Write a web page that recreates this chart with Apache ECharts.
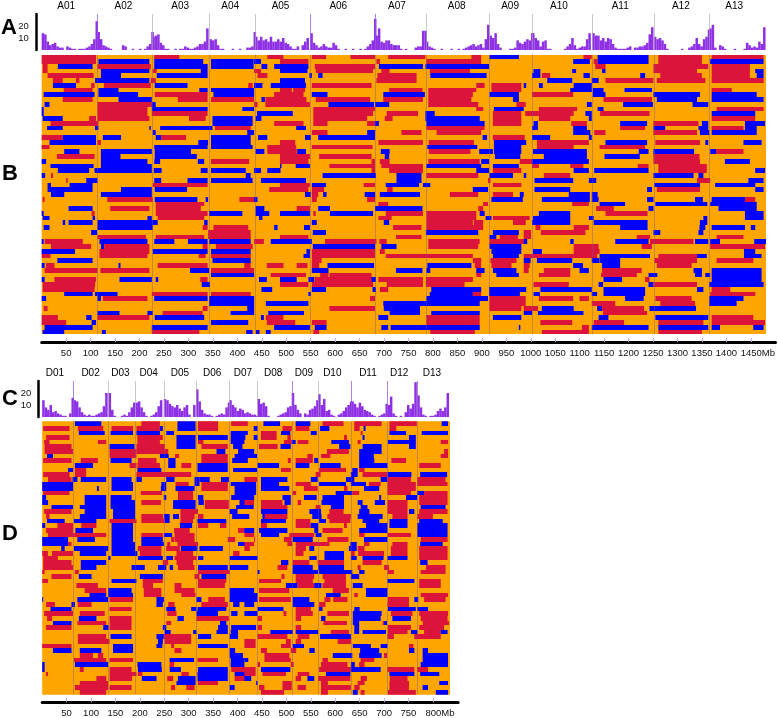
<!DOCTYPE html>
<html><head><meta charset="utf-8">
<style>html,body{margin:0;padding:0;background:#fff}#c{width:778px;height:718px}</style>
<script src="https://cdn.jsdelivr.net/npm/echarts@6/dist/echarts.min.js"></script>
</head><body><div id="c"></div>
<script>
const chromA=['A01','A02','A03','A04','A05','A06','A07','A08','A09','A10','A11','A12','A13'];
const chromD=['D01','D02','D03','D04','D05','D06','D07','D08','D09','D10','D11','D12','D13'];
const labelMbA=[50,167,283,385,488,606,726,848,957,1057,1182,1306,1415];
const labelMbD=[26,99,160,218,282,348,411,473,536,594,667,731,798];
const startMbA=[0,114,226,343,436,549,682,785,915,1002,1125,1251,1364];
const startMbD=[0,64,136,191,249,315,383,441,511,565,633,707,768];
const lineTintA=[1,0,0,0,1,1,0,0,0,0,0,0];
const lineTintD=[1,0,0,0,0,0,0,1,0,1,1,1];
const ticksA=[50,100,150,200,250,300,350,400,450,500,550,600,650,700,750,800,850,900,950,1000,1050,1100,1150,1200,1250,1300,1350,1400,1450];
const ticksD=[50,100,150,200,250,300,350,400,450,500,550,600,650,700,750,800];
const yTicks=[10,20];
const histA=[
[14,13,7,4,5,6,3,2,2,0,3,2,1,1,0,1,1,1,2,3,5,9,24],
[15,9,4,3,2,1,0,0,0,0,4,3,0,0,1,0,0,1,0,1,3,5,15],
[11,12,13,6,4,1,1,0,0,1,0,1,1,3,2,1,1,2,3,5,5,7,18],
[9,8,9,4,1,1,0,0,0,1,0,0,1,0,0,2,2,3,15],
[11,8,11,8,9,7,11,7,7,9,7,10,6,5,3,1,1,3,0,4,7,10],
[14,6,4,2,3,5,3,2,2,6,4,1,0,0,1,0,0,1,0,0,1,0,1,3,5,8,26],
[12,18,7,6,8,8,5,4,4,4,1,0,1,0,0,0,2,3,3,16,16],
[7,3,2,1,0,0,1,0,0,0,1,0,0,1,0,1,2,3,4,5,3,4,5,2,9,21],
[12,10,14,5,2,0,0,0,1,1,2,8,6,5,7,9,8,14],
[14,10,8,3,7,8,1,1,0,0,0,0,0,1,3,5,10,4,1,2,3,3,9,14],
[14,12,12,8,10,7,10,9,5,2,1,1,1,1,2,3,0,2,2,3,3,4,6,13,19],
[11,9,10,8,5,1,0,0,0,0,0,1,0,0,2,3,5,10,5,3,9,11,17],
[18,21,2,0,4,3,1,0,0,0,1,0,0,0,1,6,4,2,3,2,7,5,19]];
const histC=[
[14,8,6,10,4,5,3,2,1,1,0,3,16],
[14,13,8,4,2,1,2,1,1,2,3,4,9,20],
[20,6,1,0,0,1,2,1,4,8,12],
[12,13,8,4,1,0,1,2,4,9,14],
[15,14,11,9,8,10,7,5,8,10,2,0,10],
[23,13,6,3,2,2,1,0,1,2,3,2,8,12],
[14,10,8,5,7,6,3,4,3,2,2,1],
[15,11,12,9,1,0,0,0,1,2,3,4,8,9],
[20,10,6,3,0,3,2,6,7,9,14],
[19,10,15,5,6,2,1,0,2,3,5,8,10,13],
[13,11,8,12,9,6,5,4,2,1,0,1,2,3,11],
[10,17,3,1,0,1,0,4,10,7,11,29],
[18,8,2,1,0,1,1,2,5,7,5,8,20]];
const rowsB=[
"r0-111 r230-281 r461-494 r552-581 r631-681 r708-784 r878-898 b915-975 r1107-1124 b1136-1240 r1260-1349 r1369-1475",
"r0-111 b116-220 b230-330 b346-433 b434-448 r487-545 r684-691 r786-898 b1086-1120 r1128-1136 b1136-1240 r1260-1349 b1366-1475",
"r2-12 b33-104 r114-223 b230-339 b346-433 b449-461 b475-494 b487-545 r558-681 b689-779 b784-914 r1131-1152 r1250-1362 r1369-1447",
"r2-12 b121-220 r227-235 b325-339 r434-448 b487-543 r560-677 r694-711 r793-875 b1005-1019 b1084-1092 b1145-1152 r1250-1339 r1369-1447 b1458-1475",
"r12-106 b121-162 b235-339 r441-461 b547-552 b565-574 r686-766 b794-909 b1002-1019 r1022-1039 b1107-1120 b1223-1233 r1264-1349 r1369-1447 b1461-1475",
"r23-43 r70-77 b109-220 r223-233 b487-538 r684-766 b1033-1084 b1124-1138 r1152-1250 r1257-1356 r1369-1475",
"b23-70 r101-108 r127-223 b231-298 r422-431 b434-451 b468-494 b487-540 r552-674 r888-905 r919-980 b985-990 b1016-1024 b1087-1124",
"r45-104 b116-157 b322-339 b346-434 r487-511 r514-538 r710-778 r790-888 r919-980 b1080-1124 b1126-1148 b1191-1247 r1369-1410",
"b4-108 b116-197 r231-339 b351-434 r475-494 r487-535 b552-584 b698-783 r790-881 b915-975 r1002-1086 b1126-1152 b1250-1345 b1369-1461",
"r43-104 b157-225 r278-339 r346-434 b449-456 r457-494 r487-541 r560-671 r698-779 r790-878 b963-975 r1148-1247 b1257-1339 b1369-1475",
"b6-16 r114-225 b225-233 r434-441 r457-494 r487-548 b586-679 b681-710 r790-892 r970-989 b1114-1124 b1188-1249 b1330-1362",
"b0-4 r114-216 b225-339 b410-434 r555-681 r888-902 b924-985 r1016-1094 b1136-1148 r1379-1475",
"b0-4 r114-216 r225-339 b440-494 b487-513 r555-677 r705-769 b784-803 r922-980 r988-1087 b1111-1124 r1141-1242 b1369-1458",
"b2-43 r97-111 r114-220 r301-335 b349-431 b437-449 r555-665 r701-717 b784-895 r922-980 r1016-1080 b1118-1124 r1369-1458",
"r18-116 b349-431 r475-494 r487-535 r555-584 r665-681 b681-689 b786-905 r922-980 b1005-1014 r1082-1114 b1182-1237 r1250-1342 b1349-1362 b1437-1478",
"b11-43 b109-116 b220-223 b242-349 r354-427 b520-540 r786-905 b1002-1014 b1086-1114 r1182-1233 b1250-1274 b1342-1362 r1369-1434 b1437-1461",
"b227-233 b420-434 r552-584 b665-681 r735-776 r807-898 b1086-1121 r1129-1152 r1250-1339 b1345-1364 b1369-1461",
"r0-43 b43-111 b125-162 b233-244 r244-295 b346-427 b442-461 b538-550 b565-681 b901-910 r922-987 b1002-1039 b1118-1124",
"b16-111 r114-121 b320-340 b346-427 r487-518 r688-779 r791-883 b924-989 b985-990 r1012-1118 b1152-1237 r1254-1345 b1356-1362 b1434-1471",
"r0-16 b230-339 b346-431 r461-494 r487-520 r552-676 b788-890 b924-980 r1012-1087 r1140-1233",
"b46-77 b121-225 b231-305 b437-455 r461-494 r487-521 b522-540 b693-711 r791-876 b894-922 b924-980 b1004-1114 b1220-1240 b1250-1333 b1366-1378 r1378-1434",
"r31-108 b121-161 b231-317 r487-548 r567-674 b701-710 b926-978 b1026-1114 b1150-1222 r1250-1344",
"b0-9 b121-216 b230-242 b319-332 r346-424 r487-545 r674-681 r691-711 r790-895 b898-914 r977-989 r985-1002 b1002-1118 r1250-1345 b1396-1447",
"b18-106 b121-225 b487-490 b519-548 r588-681 r694-779 b786-898 b922-975 r1002-1016 r1080-1107 r1218-1240 r1260-1359",
"b33-97 b108-225 b229-245 b325-339 b346-417 b434-448 b461-488 r674-681 r710-779 b888-914 r922-980 b1087-1118 b1129-1240 r1260-1359 b1458-1478",
"b0-7 r19-23 b417-427 b574-683 b725-776 r786-892 b915-963 b985-990 r1026-1080 b1250-1332 b1342-1352",
"r50-53 b91-114 b230-244 b298-339 b346-431 b448-494 b487-540 b725-776 r912-917 b1007-1086 b1118-1133 r1339-1366 b1444-1475",
"b12-19 b57-104 r227-339 r487-548 b552-581 r658-681 b703-771 b779-794 r922-980 b1252-1345 b1376-1458",
"b12-104 b162-225 b231-297 r465-494 r487-545 r552-577 r706-717 b881-912 b1007-1080 b1237-1247 r1257-1345 b1458-1475",
"b19-46 b121-225 b538-550 r552-565 b575-582 b660-681 b691-773 r834-892 r922-963 b977-985 b1077-1120 b1124-1136",
"r2-6 r134-227 b231-318 b335-340 r404-434 b434-441 r552-562 r665-681 b919-983 b1022-1120 b1124-1138 b1237-1250 b1335-1351 b1369-1437 r1437-1458",
"r233-332 r688-708 r902-912 r1084-1118 b1140-1192 b1254-1360 b1366-1461",
"b55-104 r140-220 r233-325 b437-455 r521-548 b565-589 b681-778 r892-902 r1133-1169 b1240-1250 b1383-1461",
"b0-4 r102-108 r233-339 b342-410 b437-465 b487-548 r555-560 b589-677 r703-779 r786-888 b895-905 b1016-1080 r1152-1238 b1437-1475",
"b2-16 b104-109 b216-225 r237-332 b444-451 r688-715 r786-888 b907-919 r922-987 r985-997 b1004-1080 b1118-1128 b1352-1360 b1437-1475",
"b43-48 b55-104 b114-237 b332-339 b552-562 b699-710 r786-881 r883-902 r963-989 b1002-1080 b1128-1238 b1345-1360",
"b4-16 b114-227 r329-339 r351-422 b475-482 b536-548 r718-776 r786-902 r1009-1019 r1087-1118 b1182-1238 b1344-1356 b1369-1437 b1449-1458",
"b101-113 r340-427 b554-581 b785-892 b922-975 r985-1000 r1020-1111 b1250-1264 b1342-1352",
"r114-213 r233-332 r340-427 r487-545 r724-776 b915-929 r936-973 r985-1000 r1216-1243 r1379-1434",
"b0-4 r6-84 b118-216 b230-271 b299-339 b342-427 r434-454 b468-494 b487-552 r579-684 r690-705 r790-895 r915-989 b985-992 b1080-1087 b1172-1240 r1243-1332 b1335-1362 b1366-1386 b1456-1480",
"r19-101 b121-128 r128-220 r329-339 r356-431 b554-681 b694-725 r790-892 b915-980 r1087-1138 r1226-1247 r1366-1478",
"b0-68 r118-220 b227-339 b346-427 b541-548 r552-681 r691-701 b919-980 b1004-1022 r1087-1140 b1435-1458",
"r0-18 r118-216 r321-335 r346-427 b535-548 r552-681 r703-881 b922-975 r985-1135 b1140-1243 r1260-1339 b1339-1359 b1435-1471",
"b32-104 b349-427 r552-572 r881-898 r917-970 b985-999 b1012-1084 b1124-1140 b1141-1182 r1252-1339 r1379-1454",
"b0-6 r9-26 b157-161 r237-339 r414-427 r460-494 r521-543 r552-567 b584-679 b788-878 r885-898 r919-960 r985-997 b1086-1106 b1145-1182 r1257-1328",
"r6-114 r120-220 b303-342 r346-434 b552-586 b724-778 b786-794 b888-905 b922-970 r985-995 r1026-1080 b1099-1118 r1145-1226 b1332-1349 b1369-1471",
"b346-434 r468-494 r487-540 r569-586 r588-674 r888-898 b929-975 r1016-1080 r1143-1216 b1240-1258 b1335-1349 b1356-1366 b1369-1471",
"b0-6 r26-111 b159-225 b233-238 r324-339 b444-460 b487-521 b545-557 r558-677 b674-683 r688-779 r785-881 b1148-1186 r1233-1242 b1369-1471",
"r2-109 b327-344 r487-545 r552-677 r705-779 r785-864 r1005-1077 b1138-1147 b1240-1250 r1250-1339 b1364-1475",
"r2-108 b449-471 b552-581 b676-683 r691-708 b796-898 b914-989 b985-990 b1019-1124 b1148-1233 b1339-1352 r1369-1407",
"b46-104 b109-155 r225-339 r346-427 b545-550 b793-881 r881-898 b914-977 b1005-1018 b1124-1135 b1148-1233 r1366-1458",
"b0-9 b114-121 r125-216 b230-339 b342-434 r671-681 b786-912 r915-989 r1016-1086 r1099-1118 b1192-1230 r1254-1328 b1364-1434",
"b342-434 b458-494 b487-545 b698-783 b783-895 r915-989 r1124-1172 r1264-1335 b1364-1420",
"r4-12 r329-339 b420-434 r588-681 b699-773 r915-980 r985-1014 b1022-1087 b1135-1145 r1145-1231 b1242-1337",
"b114-159 b216-227 r247-329 b386-434 b463-494 b487-536 b711-773 b796-895 b985-1002 b1014-1107 r1147-1237",
"r0-33 b91-102 r114-220 b231-332 b448-454 r458-494 b688-708 r786-895 b922-980 b1138-1158 b1254-1362 r1369-1454",
"r0-50 b102-111 b346-422 r460-492 r487-518 r552-582 r786-895 r1019-1084 r1128-1190 r1260-1352 r1369-1478",
"b6-104 b225-339 b475-494 b487-548 b558-582 b694-708 b713-895 b975-978 r1104-1118 b1124-1240 b1260-1362 b1369-1386 b1454-1475",
"b2-46 b123-131 r225-322 b418-431 b438-445 b458-468 r555-567 r794-885 r1022-1118 r1260-1349"
];
const rowsD=[
"b67-121 r203-241 b277-314 r319-360 r387-421 b453-487 b519-549 r574-617 r639-695 r711-767 b818-831",
"r2-56 r73-125 r142-186 r193-241 b241-247 b277-314 r319-360 b433-441 r492-511 r519-547 b569-588 r639-650 b658-662 r711-725",
"b75-128 b140-186 b193-241 b254-270 b386-421 r448-480 b489-508 b550-562 r652-656 b711-745 b777-831",
"r8-56 r195-247 b275-314 b319-380 b386-416 b433-441 r448-480 r502-509 r618-624 b656-660 b751-765",
"r4-15 r114-131 r195-241 b275-314 r319-330 b386-414 r495-511 b511-519 r523-545 b592-628 r646-652 b708-765 r816-831",
"r5-60 b138-189 r193-251 b275-314 r326-380 b391-410 r444-482 b488-509 b608-631 b656-695 b751-765",
"r5-63 r138-193 r193-258 b357-375 b401-421 b414-434 r583-628 b649-695 r823-831",
"b10-22 r138-193 b241-259 r272-280 r326-380 b394-421 b414-440 r543-554 r571-590 b649-679 r816-831",
"r2-60 r79-114 b140-183 r196-234 b258-273 r326-380 b389-421 r503-509 r519-554 b557-565 b649-680 r715-745",
"b67-104 r179-193 r195-241 b258-273 r285-305 b318-380 b441-485 b519-547 b569-611 b649-707 r772-816",
"b53-63 r67-90 b195-244 b318-380 b391-421 b414-440 r489-509 r567-622 b635-646 r649-660",
"r2-56 r67-90 r193-305 r560-570 b632-646 r656-706 b707-756 b774-829",
"r12-60 b62-72 b79-131 b142-183 b193-204 b254-271 b312-322 b322-343 b366-382 r414-440 b448-502 b550-564 b622-639 b693-707 r707-755 r768-826",
"b0-63 b142-186 b244-254 r273-300 b312-322 r326-380 b386-421 b414-438 b448-485 r519-550 b567-622 r649-660 b632-663 r669-693 r707-765 r768-830",
"b0-63 b112-116 b142-186 b243-254 b273-312 r326-380 b394-421 b414-438 b448-506 r536-564 r618-625 b659-690 r707-765",
"r2-56 r202-245 r278-309 b394-421 b414-438 r513-520 b601-635 r635-649 r707-755 b768-782 r782-830",
"b0-8 b87-131 b140-183 b249-254 r278-309 b319-330 b387-421 b414-434 b492-509 b536-562 b574-618 b690-694 b745-768 r772-830",
"b0-12 b87-131 b140-190 r203-243 b268-314 b320-331 r333-382 b404-421 r414-434 r448-492 b496-509 r523-530 b572-618 b646-656 b681-702 r707-748 r772-830",
"b19-63 b77-131 b140-190 b268-314 r333-382 b397-421 b416-433 r448-502 r560-570 b591-618 b652-666 r707-748 b775-826",
"r4-60 b87-131 b145-190 r283-319 b384-400 b448-502 b547-571 r588-617 b649-670 r707-748 b751-762 r772-830",
"r8-15 b77-131 b145-190 r203-247 b249-261 b268-280 r283-312 r319-330 b389-421 b414-424 b451-456 r456-502 b553-572 r584-632 b646-697 r717-748 r768-800",
"b10-46 b65-111 r138-193 r203-251 b251-261 r283-309 b318-377 b448-499 r519-549 b567-581 r588-631 b656-690 b711-748 b772-820",
"b0-6 r31-63 r80-111 b142-186 b282-307 r319-340 r364-377 r448-460 r519-550 b550-565 r618-624 b663-707 b711-748 b768-830",
"r8-63 b68-104 b142-186 r270-302 r401-421 b414-434 b444-502 b557-565 r574-615 b649-707 b768-830",
"r12-67 r67-131 b142-186 r203-247 b249-266 r271-312 r414-434 b448-485 r506-557 b560-572 r649-660 r707-755 b768-830",
"b0-53 b72-108 b142-186 b203-247 r264-270 r271-312 r380-395 r434-436 r495-511 b513-554 r584-627 b659-707 r775-830",
"b0-53 r53-60 b142-190 b203-249 r256-262 r277-319 b401-421 r414-434 r502-512 r519-588 b631-644 r659-670 r717-748 b774-820",
"b39-46 b65-135 b142-190 r196-244 r254-282 b284-318 b322-370 r414-425 r519-540 b547-557 b628-644 r646-660 r714-748 r772-830",
"r0-12 r20-63 b77-131 b142-195 r200-244 r275-309 r391-404 r519-535 b578-618 r632-640 r647-700 r714-748 r772-830",
"r2-32 b135-140 b196-247 b254-268 r271-316 b319-330 b384-421 b414-441 b547-562 b578-618 b632-644 b656-699 b707-748 r772-830",
"r2-60 b79-131 r247-258 r275-309 b489-504 r513-547 r564-618 r656-695 b774-789",
"r2-63 b79-111 b183-210 b237-254 b261-268 r278-312 b319-380 b384-421 b414-422 r482-502 b513-554 b565-618 r646-652 r700-710 r786-826",
"r0-5 r67-75 r319-384 b441-445 b513-565 b567-635 b649-660 r707-720 r775-826",
"r19-60 b75-101 b200-247 r312-322 b326-377 r490-496 r519-557 r574-622 b632-649",
"r0-12 b142-193 r206-247 r319-377 r444-489 r519-554 r578-622 b707-762 r772-816",
"r70-114 r206-227 r271-285 r319-374 b499-523 r523-557 b557-572 r574-622 b636-656 r772-816",
"r87-131 b135-183 r208-244 r271-312 b384-421 b414-434 r444-506 r595-628 b663-707",
"b97-131 b135-186 r208-244 r285-314 b384-421 b414-441 b581-611 r639-646 b663-707 r775-831",
"b0-2 b72-135 r138-186 b234-249 b316-326 r340-374 b384-421 b414-441 r444-509 b513-547 r578-590 r596-625 r708-751 b762-770 r782-826",
"r8-26 b60-67 r73-101 b234-247 r258-271 r326-380 b391-404 b414-434 b513-557 r567-580 r707-751",
"b17-60 r138-183 b254-273 b305-316 b318-377 b441-494 r519-550 b567-574 b639-650 b708-765 b768-790",
"r4-63 r77-128 r256-275 b316-360 b387-400 b414-441 r494-500 r519-554 r584-628 b636-695 r714-758 r772-831",
"r10-20 b75-111 r138-183 b277-290 r316-382 r441-450 r519-530 b571-580 b636-693 b717-755 r775-830",
"b22-60 r72-131 r138-183 r254-264 b364-377 r576-624 b636-649 r697-702 b700-706 r779-833",
"r8-60 b125-136 r138-183 b247-254 b360-380 b387-421 b414-438 r441-450 r519-530 b639-649 r708-755 r772-823",
"b251-263 b309-316 b357-380 b386-401 b467-513 b519-565 r591-628 b639-649 b656-704 r708-748 b755-768 r782-816 b816-830",
"r73-131 b140-183 b234-249 r249-305 b319-346 b384-401 r441-502 r523-547 b569-632 r707-720 r762-816",
"r73-138 b237-247 r251-305 r414-437 r499-509 r519-530 r605-632",
"r0-60 b145-186 b234-246 r264-270 b319-380 r414-437 r489-509 b513-536 b636-673 b693-707 r751-760",
"b22-60 b77-121 b145-186 r271-285 b384-395 r448-460 r509-520 b547-558 b651-690 b751-762 b779-790",
"r77-104 r114-125 b384-411 r455-506 b595-635 b649-695 r700-706 b779-831",
"r65-131 r138-186 b261-311 r318-360 b386-414 b414-422 r455-509 r574-585 r652-680 b779-831",
"b0-5 b67-135 b195-244 r261-270 b386-414 r441-446 r509-515 r571-625 b632-640 r649-660 b775-831",
"b0-5 r77-85 r138-183 b196-245 b261-284 b319-380 r387-421 r414-437 b448-508 r567-632 b632-693 r707-762 r768-790",
"r8-12 r138-193 r196-205 r285-300 b318-380 b394-421 r414-437 r451-499 r523-547 b581-631 b711-762 b774-813",
"r111-131 r138-184 b204-234 r256-268 b278-314 b318-380 r394-421 b414-428 r519-530 b543-557 r565-631 r652-665 r712-748",
"r77-135 b275-314 r319-360 b438-441 r492-511 r571-585 r646-660 r711-751 b813-831",
"r67-135 r138-183 r264-272 r295-312 b384-394 r444-455 r492-511 r523-540 r571-632 r639-650 r711-751 b779-790",
"r77-131 r448-495 r571-585 b636-646 r652-660 r708-765 b806-831"
];

const COLORS={o:'#FFA500',r:'#DC143C',b:'#0000FF'};
const PURPLE='#8F2FE6';

function segData(rows,maxMb){
  const out=[[0,0,maxMb,'o',rows.length]];
  rows.forEach((s,k)=>{
    s.split(' ').forEach(t=>{
      const [a,b]=t.slice(1).split('-').map(Number);
      out.push([k,a,b,t[0],1]);
    });
  });
  return out;
}
function histData(bins,starts){
  const out=[];
  bins.forEach((arr,i)=>arr.forEach((v,j)=>{ if(v>0) out.push([starts[i]+2.5+j*5,v]); }));
  return out;
}
const renderSeg=(p,api)=>{
  const k=api.value(0),a=api.value(1),b=api.value(2);
  const tl=api.coord([a,k]),br=api.coord([b,k+api.value(4)]);
  const y0=Math.round(tl[1]),y1=Math.round(br[1]);
  return {type:'rect',shape:{x:tl[0],y:y0,width:br[0]-tl[0],height:y1-y0},
    style:{fill:COLORS[api.value(3)]}};
};
const tickFmt=last=>v=>v===last?'{m|'+v+'Mb}':String(v);

function panel(g,o){
  const ix=g*1;
  return {grid:[
    {left:o.left,top:o.histTop,width:o.w,height:36},
    {left:o.left,top:o.heatTop,width:o.w,height:o.heatH},
    {left:o.left,top:o.axisTop,width:o.axisW,height:1}],
  xAxis:[
    {gridIndex:ix,type:'value',min:0,max:o.maxMb,show:false},
    {gridIndex:ix+1,type:'value',min:0,max:o.maxMb,show:false},
    {gridIndex:ix+2,type:'value',min:0,max:o.axisMax,position:'bottom',
      axisLine:{show:true,onZero:false,lineStyle:{color:'#000',width:3}},
      axisTick:{show:true,inside:true,length:4,customValues:o.ticks,lineStyle:{color:'#C9A6E8',width:1}},
      splitLine:{show:false},
      axisLabel:{customValues:o.ticks,fontFamily:'Liberation Sans',fontSize:9.5,color:'#111',margin:6,hideOverlap:false,
        showMinLabel:true,showMaxLabel:true,
        formatter:tickFmt(o.ticks[o.ticks.length-1]),
        rich:{m:{fontFamily:'Liberation Sans',fontSize:9.5,color:'#111',padding:[0,0,0,14]}}}}],
  yAxis:[
    {gridIndex:ix,type:'value',min:0,max:30,position:'left',offset:o.yOffset,
      axisLine:{show:true,onZero:false,lineStyle:{color:'#000',width:2.5}},
      axisTick:{show:false},splitLine:{show:false},
      axisLabel:{customValues:yTicks,fontFamily:'Liberation Sans',fontSize:9.5,color:'#111',margin:o.yMargin}},
    {gridIndex:ix+1,type:'value',min:0,max:o.rows.length,inverse:true,show:false},
    {gridIndex:ix+2,type:'value',min:0,max:1,show:false}],
  series:[
    {type:'bar',xAxisIndex:ix,yAxisIndex:ix,data:histData(o.hist,o.starts),barWidth:2.5,
      itemStyle:{color:PURPLE},silent:true,animation:false,
      markLine:{silent:true,symbol:'none',animation:false,label:{show:false},
        data:o.starts.slice(1).map((x,i)=>({xAxis:x,lineStyle:{width:1,type:'solid',
          color:o.tint[i]?'rgba(150,90,220,0.75)':'rgba(170,170,170,0.65)'}}))}},
    {type:'scatter',xAxisIndex:ix,yAxisIndex:ix,symbolSize:0,silent:true,animation:false,clip:false,
      data:o.names.map((n,i)=>({value:[o.labelMb[i],30],name:n})),
      label:{show:true,position:'top',distance:3,opacity:1,formatter:'{b}',fontFamily:'Liberation Sans',fontSize:10,color:'#000'},
      itemStyle:{opacity:1}},
    {type:'custom',xAxisIndex:ix+1,yAxisIndex:ix+1,data:segData(o.rows,o.maxMb),
      renderItem:renderSeg,encode:{x:[1,2],y:0},silent:true,animation:false,clip:true,
      markLine:{silent:true,symbol:'none',animation:false,label:{show:false},z:10,
        data:o.starts.slice(1).map(x=>({xAxis:x,lineStyle:{width:1,type:'solid',color:'rgba(110,90,150,0.4)'}}))}}
  ]};
}
const A=panel(0,{left:41.7,w:724.3,histTop:14,heatTop:54.5,heatH:279.8,axisTop:341,axisW:734.3,maxMb:1480,axisMax:1500.4,
  ticks:ticksA,hist:histA,starts:startMbA,tint:lineTintA,names:chromA,labelMb:labelMbA,rows:rowsB,yOffset:5,yMargin:8});
const C=panel(3,{left:42.2,w:407.8,histTop:381,heatTop:421.3,heatH:273.4,axisTop:702,axisW:416,maxMb:835,axisMax:851.8,
  ticks:ticksD,hist:histC,starts:startMbD,tint:lineTintD,names:chromD,labelMb:labelMbD,rows:rowsD,yOffset:3.9,yMargin:7});
const letters=[['A',1,29],['B',2,175],['C',2,400],['D',2,535]];
const chart=echarts.init(document.getElementById('c'),null,{renderer:'canvas'});
chart.setOption({
  animation:false,backgroundColor:'#fff',
  grid:A.grid.concat(C.grid),xAxis:A.xAxis.concat(C.xAxis),yAxis:A.yAxis.concat(C.yAxis),
  series:A.series.concat(C.series),
  graphic:letters.map(l=>({type:'text',left:l[1],top:l[2]-12,
    style:{text:l[0],font:'bold 22px "Liberation Sans"',fill:'#000'}}))
});
</script></body></html>
